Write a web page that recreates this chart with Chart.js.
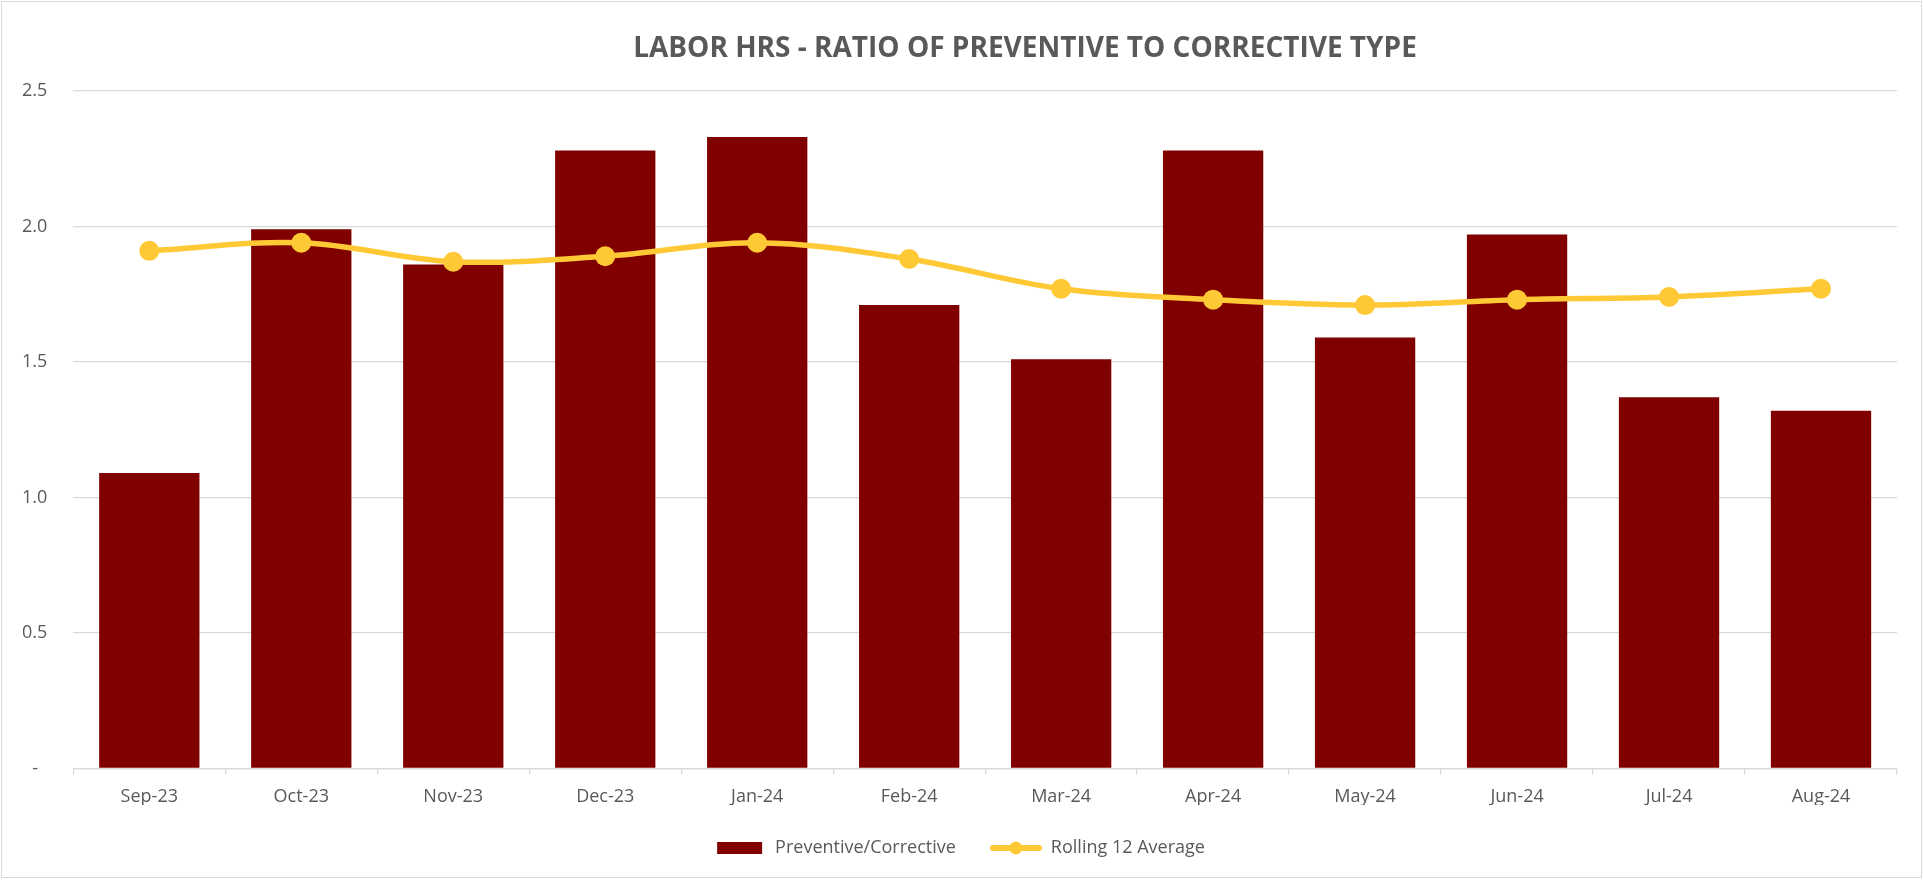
<!DOCTYPE html>
<html>
<head>
<meta charset="utf-8">
<title>Labor Hrs - Ratio of Preventive to Corrective Type</title>
<script src="https://cdn.jsdelivr.net/npm/chart.js@4.4.1/dist/chart.umd.min.js"></script>
<style>
    html, body { margin: 0; padding: 0; background: #fff; }
    .wrap { position: relative; width: 1923px; height: 882px; }
    .frame {
        position: absolute; left: 1px; top: 1px; width: 1921px; height: 877px;
        box-sizing: border-box; border: 1.5px solid #d9d9d9; pointer-events: none;
    }
    .title {
        position: absolute; left: 1025px; top: 30px; transform: translateX(-50%);
        font-family: 'Open Sans', sans-serif; font-weight: 700; font-size: 28px;
        color: #595959; white-space: nowrap; line-height: 32px;
    }
    canvas { position: absolute; left: 0; top: 0; }
</style>
</head>
<body>
<div class="wrap">
    <canvas id="ratioChart" width="1923" height="882"></canvas>
    <div class="title">LABOR HRS - RATIO OF PREVENTIVE TO CORRECTIVE TYPE</div>
    <div class="frame"></div>
</div>
<script>
/* ======== Data ======== */
const months = ['Sep-23', 'Oct-23', 'Nov-23', 'Dec-23', 'Jan-24', 'Feb-24',
                'Mar-24', 'Apr-24', 'May-24', 'Jun-24', 'Jul-24', 'Aug-24'];
const prevCorr = [1.09, 1.99, 1.86, 2.28, 2.33, 1.71, 1.51, 2.28, 1.59, 1.97, 1.37, 1.32];
const rolling12 = [1.91, 1.94, 1.87, 1.89, 1.94, 1.88, 1.77, 1.73, 1.71, 1.73, 1.74, 1.77];
const yTicks = [0, 0.5, 1.0, 1.5, 2.0, 2.5];

/* ======== Colors ======== */
const MAROON = '#800000';
const GOLD = '#FFC935';
const GRID = '#d9d9d9';
const TEXT = '#595959';

Chart.defaults.font.family = "'Open Sans', sans-serif";
Chart.defaults.font.size = 18;
Chart.defaults.color = TEXT;

// legend swatches: a plain box for the bars, line + dot for the average
function swatch(kind) {
    const c = document.createElement('canvas');
    c.width = 52; c.height = 16;
    const g = c.getContext('2d');
    if (kind === 'bar') {
        g.fillStyle = MAROON;
        g.fillRect(3, 2, 45, 12);
    } else {
        g.strokeStyle = GOLD;
        g.lineWidth = 6;
        g.lineCap = 'round';
        g.beginPath(); g.moveTo(3, 8); g.lineTo(49, 8); g.stroke();
        g.fillStyle = GOLD;
        g.beginPath(); g.arc(26, 8, 6.5, 0, Math.PI * 2); g.fill();
    }
    return c;
}
const swatches = [swatch('bar'), swatch('line')];

const Y_PAD = 26;

new Chart(document.getElementById('ratioChart'), {
    type: 'bar',
    data: {
        labels: months,
        datasets: [
            {
                label: 'Preventive/Corrective',
                data: prevCorr,
                backgroundColor: MAROON,
                barPercentage: 0.66,
                categoryPercentage: 1,
                order: 1
            },
            {
                type: 'line',
                label: 'Rolling 12 Average',
                data: rolling12,
                borderColor: GOLD,
                backgroundColor: GOLD,
                borderWidth: 5.5,
                pointRadius: 10,
                pointBorderWidth: 0,
                pointBackgroundColor: GOLD,
                tension: 0.35,
                fill: false,
                order: 0
            }
        ]
    },
    options: {
        responsive: false,
        animation: false,
        layout: { padding: { left: 22, right: 26, top: 91, bottom: 15 } },
        scales: {
            x: {
                grid: { display: true, drawOnChartArea: false, color: GRID, lineWidth: 1.3, tickLength: 6 },
                border: { color: GRID, width: 1.3 },
                ticks: { padding: 12, color: TEXT, maxRotation: 0 },
                // pull the legend up closer to the month labels
                afterFit: (s) => { s.height -= 15; }
            },
            y: {
                min: 0, max: 2.5,
                afterBuildTicks: (s) => { s.ticks = yTicks.map(v => ({ value: v })); },
                grid: { color: GRID, lineWidth: 1.3, drawTicks: false },
                border: { display: false },
                ticks: {
                    padding: Y_PAD, color: TEXT,
                    callback: (v) => v === 0 ? '-  ' : Number(v).toFixed(1)
                },
                // chart.js reserves the tick padding twice; keep it once
                afterFit: (s) => { s.width -= Y_PAD; }
            }
        },
        plugins: {
            title: { display: false },
            tooltip: { enabled: false },
            legend: {
                position: 'bottom',
                labels: {
                    usePointStyle: true,
                    pointStyleWidth: 52,
                    padding: 34,
                    color: TEXT,
                    sort: (a, b) => a.datasetIndex - b.datasetIndex,
                    generateLabels: (chart) => {
                        const items = Chart.defaults.plugins.legend.labels.generateLabels(chart);
                        items.forEach(it => { it.pointStyle = swatches[it.datasetIndex]; });
                        return items;
                    }
                }
            }
        }
    }
});
</script>
</body>
</html>
